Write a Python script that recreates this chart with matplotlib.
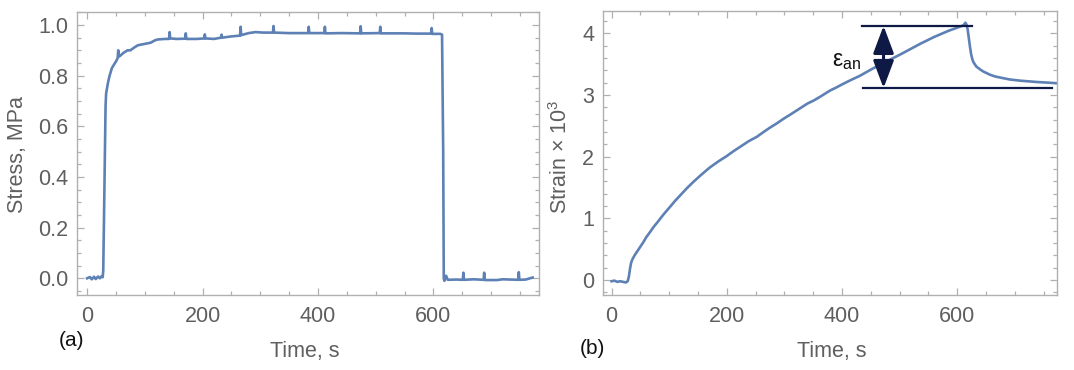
import matplotlib
matplotlib.use("Agg")
import matplotlib.pyplot as plt
from matplotlib.ticker import MultipleLocator

plt.rcParams['font.family'] = ['Liberation Sans', 'DejaVu Sans']
plt.rcParams['mathtext.default'] = 'regular'

# ---- data ----
stress_t = [0, 5, 8, 12, 15, 19, 22, 25, 27, 28,
            30, 32, 33, 36, 39, 43, 47, 51, 53, 54, 55, 58, 63, 70, 75, 81, 88, 99, 110, 118, 123,
            135, 142, 143, 144, 155, 170, 171, 172, 190, 203, 204, 205, 220, 232, 233, 234, 250,
            265, 266, 267, 280, 292, 305, 322, 323, 324, 350, 383, 384, 385, 411, 412, 413, 440,
            473, 474, 475, 507, 508, 509, 550, 570, 596, 597, 598, 612, 615, 617, 618, 619, 622,
            625, 640, 651, 652, 653, 670, 687, 688, 689, 710, 720, 747, 748, 749, 760, 772]
stress_v = [0.0, 0.005, -0.004, 0.006, -0.003, 0.007, 0.0, 0.008, 0.004, 0.03,
            0.35, 0.68, 0.73, 0.77, 0.80, 0.83, 0.845, 0.86, 0.87, 0.90, 0.875, 0.88, 0.89, 0.90, 0.90, 0.91, 0.92, 0.925, 0.93, 0.94, 0.943,
            0.945, 0.945, 0.972, 0.947, 0.945, 0.946, 0.967, 0.945, 0.945, 0.947, 0.963, 0.947, 0.945, 0.95, 0.962, 0.95, 0.955,
            0.958, 0.993, 0.96, 0.968, 0.972, 0.97, 0.97, 0.996, 0.97, 0.968, 0.968, 0.993, 0.968, 0.968, 0.993, 0.967, 0.968,
            0.967, 0.995, 0.967, 0.968, 0.993, 0.967, 0.967, 0.966, 0.966, 0.988, 0.965, 0.965, 0.962, 0.5, 0.0, -0.01, 0.01,
            -0.006, -0.005, -0.006, 0.022, -0.006, -0.004, -0.006, 0.022, -0.007, -0.007, -0.004, -0.006, 0.024, -0.006, -0.005, 0.003]

strain_t = [0, 5, 10, 15, 20, 25, 28, 30, 32, 34, 36, 40, 45, 50, 55, 60, 67, 73, 80, 90, 101, 110,
            120, 131, 142, 155, 170, 185, 200, 212, 225, 238, 252, 264, 275, 287, 298, 310, 320, 330,
            340, 351, 362, 379, 390, 400, 415, 431, 450, 472, 500, 518, 536, 560, 585, 600, 611, 614,
            616, 618, 620, 622, 624, 626, 628, 633, 640, 645, 656, 665, 675, 691, 710, 737, 755, 772]
strain_v = [-0.02, -0.01, -0.03, -0.02, -0.03, -0.04, -0.02, 0.05, 0.18, 0.28, 0.33, 0.40, 0.47, 0.54,
            0.61, 0.69, 0.78, 0.86, 0.94, 1.06, 1.18, 1.28, 1.38, 1.49, 1.59, 1.70, 1.82, 1.92, 2.01,
            2.09, 2.17, 2.25, 2.32, 2.40, 2.47, 2.54, 2.61, 2.68, 2.74, 2.80, 2.86, 2.91, 2.97, 3.07,
            3.12, 3.17, 3.24, 3.31, 3.41, 3.52, 3.65, 3.74, 3.83, 3.94, 4.04, 4.09, 4.13, 4.17, 4.14,
            4.06, 3.92, 3.78, 3.66, 3.58, 3.53, 3.46, 3.41, 3.38, 3.33, 3.30, 3.28, 3.25, 3.23, 3.21,
            3.20, 3.19]

# annotation values
eps_top = 4.12
eps_bot = 3.11
eps_arrow_t = 472
top_line_t = (434, 625)
bot_line_t = (437, 764)

xticks = [0, 200, 400, 600]
stress_ticks = [0.0, 0.2, 0.4, 0.6, 0.8, 1.0]
strain_ticks = [0, 1, 2, 3, 4]

LINE = '#5E81B5'
NAVY = '#0E1A45'
FRAME = '#B0B0B0'
TXT = '#5F5F5F'
FS = 15.5

W, H = 1074, 370
fig = plt.figure(figsize=(W / 100, H / 100), dpi=100)


def px_axes(x0, x1, ytop, ybot):
    return fig.add_axes([x0 / W, (H - ybot) / H, (x1 - x0) / W, (ybot - ytop) / H])


def style(ax):
    for s in ax.spines.values():
        s.set_color(FRAME)
        s.set_linewidth(1.0)
    ax.tick_params(which='both', direction='in', top=True, right=True, color=FRAME,
                   labelcolor=TXT, labelsize=FS, width=0.9)
    ax.tick_params(which='major', length=5)
    ax.tick_params(axis='x', which='major', pad=8)
    ax.tick_params(axis='y', which='major', pad=6)
    ax.tick_params(which='minor', length=3)


ax1 = px_axes(76.7, 539, 11.7, 295)
ax1.plot(stress_t, stress_v, color=LINE, lw=1.9)
ax1.set_xlim(-18, 783)
ax1.set_ylim(-0.066, 1.0525)
ax1.set_xticks(xticks)
ax1.set_yticks(stress_ticks)
ax1.set_yticklabels([f'{v:.1f}' for v in stress_ticks])
ax1.xaxis.set_minor_locator(MultipleLocator(50))
ax1.yaxis.set_minor_locator(MultipleLocator(0.05))
style(ax1)
fig.text(18 / W, 1 - 155 / H, 'Stress, MPa', color=TXT, fontsize=FS, rotation=90,
         ha='center', va='center')
fig.text(305 / W, 1 - 351 / H, 'Time, s', color=TXT, fontsize=FS, ha='center', va='center')
fig.text(72 / W, 1 - 340 / H, '(a)', color='#111111', fontsize=FS - 0.5, ha='center', va='center')

ax2 = px_axes(602.6, 1057, 11, 295)
ax2.plot(strain_t, strain_v, color=LINE, lw=1.9)
ax2.set_xlim(-15.5, 773)
ax2.set_ylim(-0.243, 4.36)
ax2.set_xticks(xticks)
ax2.set_yticks(strain_ticks)
ax2.xaxis.set_minor_locator(MultipleLocator(50))
ax2.yaxis.set_minor_locator(MultipleLocator(0.2))
style(ax2)
fig.text(561 / W, 1 - 157 / H, 'Strain × 10$^{3}$', color=TXT, fontsize=FS, rotation=90,
         ha='center', va='center')
fig.text(832 / W, 1 - 351 / H, 'Time, s', color=TXT, fontsize=FS, ha='center', va='center')
fig.text(592 / W, 1 - 349 / H, '(b)', color='#111111', fontsize=FS - 0.5, ha='center', va='center')

ax2.plot(top_line_t, [eps_top, eps_top], color=NAVY, lw=1.6)
ax2.plot(bot_line_t, [eps_bot, eps_bot], color=NAVY, lw=1.6)
ax2.annotate('', xy=(eps_arrow_t, eps_top), xytext=(eps_arrow_t, eps_bot),
             arrowprops=dict(arrowstyle='<|-|>,head_length=1.2,head_width=0.45',
                             mutation_scale=14, color=NAVY, lw=2.2,
                             shrinkA=0, shrinkB=0))
ax2.text(408, 3.56, 'ε$_{an}$', color='#111111', fontsize=16.5, ha='center', va='center')

fig.savefig('out.png', dpi=100)
